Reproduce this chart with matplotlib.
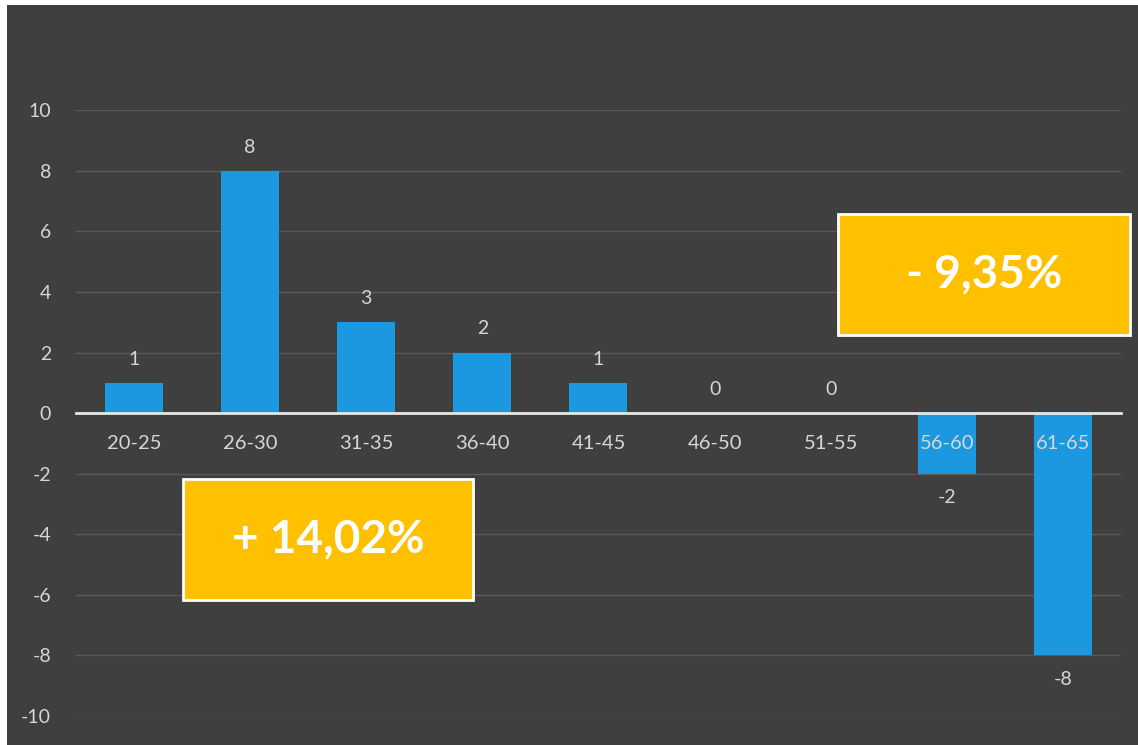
import matplotlib.pyplot as plt
from matplotlib.patches import Rectangle

# age groups and change in number of people
categories = ["20-25", "26-30", "31-35", "36-40", "41-45", "46-50", "51-55", "56-60", "61-65"]
values = [1, 8, 3, 2, 1, 0, 0, -2, -8]
y_ticks = [-10, -8, -6, -4, -2, 0, 2, 4, 6, 8, 10]
box_texts = ["- 9,35%", "+ 14,02%"]

bg = "#3f3f3f"
txt = "#d6d6d6"
bar_col = "#1b98df"
gold = "#ffc000"

plt.rcParams['font.family'] = ['Lato', 'DejaVu Sans']
plt.rcParams['axes.unicode_minus'] = False

fig = plt.figure(figsize=(11.38, 7.45), dpi=100)
fig.patch.set_facecolor("white")
# dark slide background (scan leaves a thin white border top/left)
fig.patches.append(Rectangle((7 / 1138, 0), 1, 1 - 5 / 745, transform=fig.transFigure,
                             facecolor=bg, edgecolor="none", zorder=-10))

ax = fig.add_axes([0.0668, 0.039, 0.9182, 0.813])
ax.set_facecolor("none")

x = range(len(categories))
bars = ax.bar(x, values, width=0.5, color=bar_col, zorder=3)

ax.set_xlim(-0.5, len(categories) - 0.5)
ax.set_ylim(-10, 10)
ax.set_yticks(y_ticks)
ax.grid(axis="y", color="#595959", linewidth=1, zorder=0)

for s in ["top", "right", "left"]:
    ax.spines[s].set_visible(False)
ax.spines["bottom"].set_position(("data", 0))
ax.spines["bottom"].set_color("#e6e6e6")
ax.spines["bottom"].set_linewidth(2)
ax.spines["bottom"].set_zorder(4)

ax.set_xticks(list(x))
ax.set_xticklabels(categories)
ax.tick_params(axis="x", length=0, pad=16, labelsize=14.5, labelcolor=txt)
ax.tick_params(axis="y", length=0, pad=18, labelsize=14, labelcolor=txt)
# category labels sit on top of the negative bars
ax.xaxis.set_zorder(5)

ax.bar_label(bars, labels=[str(v) for v in values], padding=11, fontsize=14, color=txt)

# highlighted percentage boxes
boxes = [(838, 214, 1130, 335), (183, 479, 473, 600)]
for (x0, y0, x1, y1), t in zip(boxes, box_texts):
    fx0, fx1 = x0 / 1138, x1 / 1138
    fy0, fy1 = 1 - y1 / 745, 1 - y0 / 745
    fig.patches.append(Rectangle((fx0, fy0), fx1 - fx0, fy1 - fy0, transform=fig.transFigure,
                                 facecolor=gold, edgecolor="white", linewidth=2, zorder=5))
    fig.text((fx0 + fx1) / 2, (fy0 + fy1) / 2, t, ha="center", va="center",
             color="white", fontsize=33, fontweight="bold", zorder=6)

fig.savefig("out.png", dpi=100)
